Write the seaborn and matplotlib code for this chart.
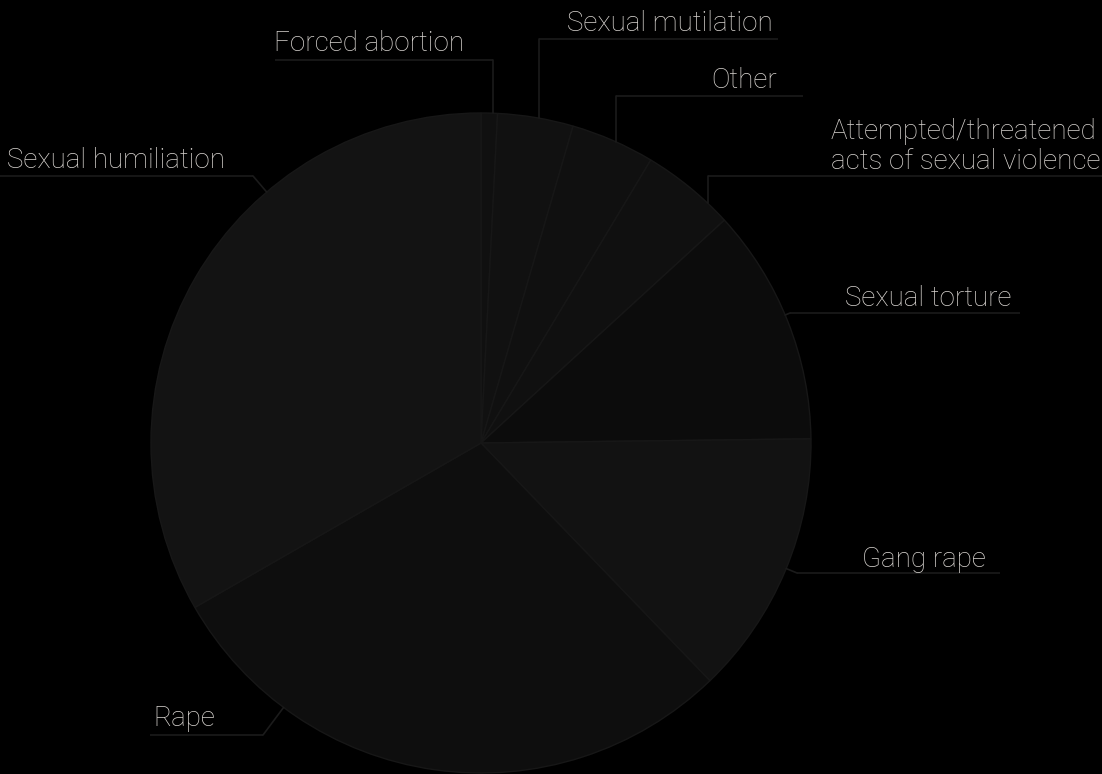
import matplotlib
matplotlib.use("Agg")
import matplotlib.pyplot as plt
import seaborn as sns
import numpy as np

# ---- data (share of reported cases, %) ----
categories = ["Forced abortion", "Sexual mutilation", "Other",
              "Attempted/threatened\nacts of sexual violence",
              "Sexual torture", "Gang rape", "Rape", "Sexual humiliation"]
values = [0.8, 3.7, 4.1, 4.6, 11.6, 13.0, 28.9, 33.3]
slice_colors = ["#101010", "#111111", "#101010", "#101010",
                "#0c0c0c", "#121212", "#0e0e0e", "#131313"]

# ---- layout (pixel coordinates, y measured from top) ----
W, H = 1102, 774
CX, CY, R = 481, 443, 330
label_xy = {                       # text left x, baseline y
    "Forced abortion": (274, 51),
    "Sexual mutilation": (567, 31),
    "Other": (711, 88),
    "Attempted/threatened\nacts of sexual violence": (831, 169),
    "Sexual torture": (845, 306),
    "Gang rape": (862, 567),
    "Rape": (153, 726),
    "Sexual humiliation": (7, 168),
}
underline = {                      # x0, x1, y, connector end x, connector mode
    "Forced abortion": (275, 493, 60, 493, "v"),
    "Sexual mutilation": (539, 778, 39, 539, "v"),
    "Other": (616, 803, 96, 616, "v"),
    "Attempted/threatened\nacts of sexual violence": (708, 1102, 176, 708, "v"),
    "Sexual torture": (790, 1020, 313, 790, "r"),
    "Gang rape": (797, 1000, 573, 797, "r"),
    "Rape": (150, 263, 735, 263, "r"),
    "Sexual humiliation": (0, 253, 176, 253, "r"),
}

sns.set_theme(style="dark", rc={"axes.facecolor": "black",
                                "figure.facecolor": "black",
                                "savefig.facecolor": "black"})
plt.rcParams['font.family'] = ['Roboto', 'DejaVu Sans']

fig = plt.figure(figsize=(W / 100, H / 100), dpi=100)
ax = fig.add_axes([0, 0, 1, 1])

def py(y):
    return H - y

palette = sns.color_palette(slice_colors)
ax.pie(values, colors=palette, startangle=90, counterclock=False,
       center=(CX, py(CY)), radius=R,
       wedgeprops=dict(edgecolor="#171717", linewidth=1.0))

ax.set_xlim(0, W)
ax.set_ylim(0, H)
ax.set_aspect('equal', adjustable='box')
ax.axis('off')

line_col = "#1b1b1b"
text_col = "#d8d4d0"
for cat in categories:
    x0, x1, uy, ex, mode = underline[cat]
    ax.plot([x0, x1], [py(uy), py(uy)], color=line_col, lw=1.2,
            solid_capstyle='butt')
    if mode == "v":
        dy = np.sqrt(max(R ** 2 - (ex - CX) ** 2, 0))
        ey = CY - dy
        ax.plot([ex, ex], [py(uy), py(ey)], color=line_col, lw=1.2)
    else:
        dx, dyy = ex - CX, uy - CY
        d = np.hypot(dx, dyy)
        px, pyy = CX + dx / d * R, CY + dyy / d * R
        ax.plot([ex, px], [py(uy), py(pyy)], color=line_col, lw=1.2)
    tx, ty = label_xy[cat]
    ax.text(tx, py(ty), cat, color=text_col, fontsize=20,
            fontweight='light', ha='left', va='baseline',
            linespacing=1.12)

fig.savefig("out.png", dpi=100, facecolor="black")
